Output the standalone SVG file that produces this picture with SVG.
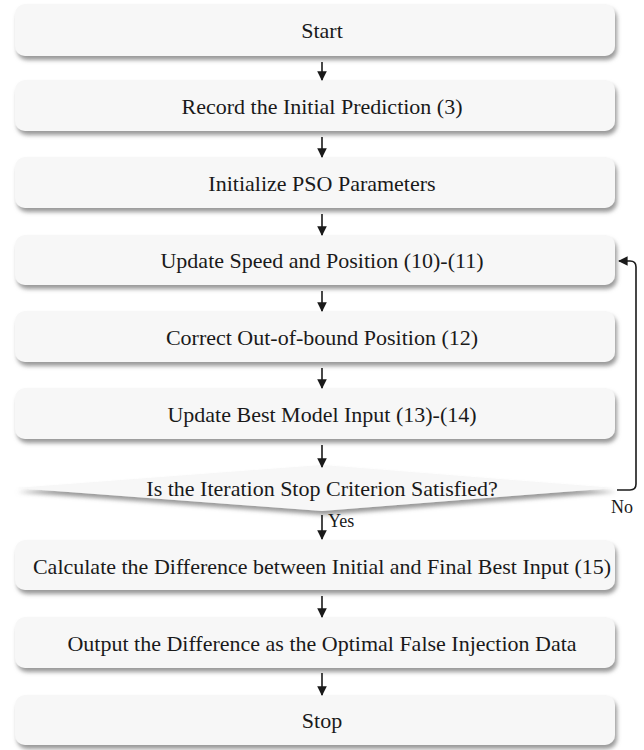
<svg xmlns="http://www.w3.org/2000/svg" width="644" height="750" viewBox="0 0 644 750">
<style>
.box{fill:#f7f7f7;filter:url(#sh)}
.t{font-family:'Liberation Serif','Tinos','DejaVu Serif',serif;font-size:22px;fill:#1a1a1a;text-anchor:middle}
.l{font-family:'Liberation Serif','Tinos','DejaVu Serif',serif;font-size:18px;fill:#1a1a1a}
.c{stroke:#1a1a1a;stroke-width:1.6;fill:none;marker-end:url(#ah)}
</style>
<defs>
<filter id="sh" x="-5%" y="-20%" width="110%" height="150%">
<feDropShadow dx="2" dy="4" stdDeviation="2" flood-color="#777" flood-opacity="0.75"/>
</filter>
<marker id="ah" viewBox="0 0 10 10" refX="9" refY="5" markerWidth="6" markerHeight="6" orient="auto" markerUnits="strokeWidth">
<path d="M0,0 L10,5 L0,10 z" fill="#1a1a1a"/>
</marker>
</defs>
<rect width="644" height="750" fill="#fff"/>
<g id="n1"><rect class="box" x="15" y="4" width="600" height="52" rx="10"/><text class="t" x="322" y="38">Start</text></g>
<g id="n2"><rect class="box" x="15" y="80" width="600" height="51" rx="10"/><text class="t" x="322" y="113.5">Record the Initial Prediction (3)</text></g>
<g id="n3"><rect class="box" x="15" y="157" width="600" height="51" rx="10"/><text class="t" x="322" y="190.5">Initialize PSO Parameters</text></g>
<g id="n4"><rect class="box" x="15" y="235" width="600" height="50" rx="10"/><text class="t" x="322" y="268">Update Speed and Position (10)-(11)</text></g>
<g id="n5"><rect class="box" x="15" y="311" width="600" height="51" rx="10"/><text class="t" x="322" y="344.5">Correct Out-of-bound  Position (12)</text></g>
<g id="n6"><rect class="box" x="15" y="388" width="600" height="51" rx="10"/><text class="t" x="322" y="421.5">Update Best Model Input (13)-(14)</text></g>
<g id="n7"><path class="box" d="M15,488 L322,465 L615,488 L322,511 Z"/><text class="t" x="322" y="496">Is the Iteration Stop Criterion Satisfied?</text></g>
<g id="n8"><rect class="box" x="15" y="540" width="600" height="50" rx="10"/><text class="t" x="322" y="573.5">Calculate the Difference between Initial and Final Best Input (15)</text></g>
<g id="n9"><rect class="box" x="15" y="617" width="600" height="51" rx="10"/><text class="t" x="322" y="650.5">Output the Difference as the Optimal False Injection Data</text></g>
<g id="n10"><rect class="box" x="15" y="695" width="600" height="50" rx="10"/><text class="t" x="322" y="728">Stop</text></g>
<g id="connectors">
<line class="c" x1="322" y1="62" x2="322" y2="80"/>
<line class="c" x1="322" y1="137" x2="322" y2="157"/>
<line class="c" x1="322" y1="214" x2="322" y2="235"/>
<line class="c" x1="322" y1="291" x2="322" y2="311"/>
<line class="c" x1="322" y1="368" x2="322" y2="388"/>
<line class="c" x1="322" y1="445" x2="322" y2="467"/>
<line class="c" x1="322" y1="515" x2="322" y2="539"/>
<line class="c" x1="322" y1="596" x2="322" y2="617"/>
<line class="c" x1="322" y1="673" x2="322" y2="695"/>
<path class="c" d="M617,490 H630 Q636,490 636,484 V267 Q636,261 630,261 H619"/>
<text class="l" x="328" y="527">Yes</text>
<text class="l" x="611" y="513">No</text>
</g>
</svg>
